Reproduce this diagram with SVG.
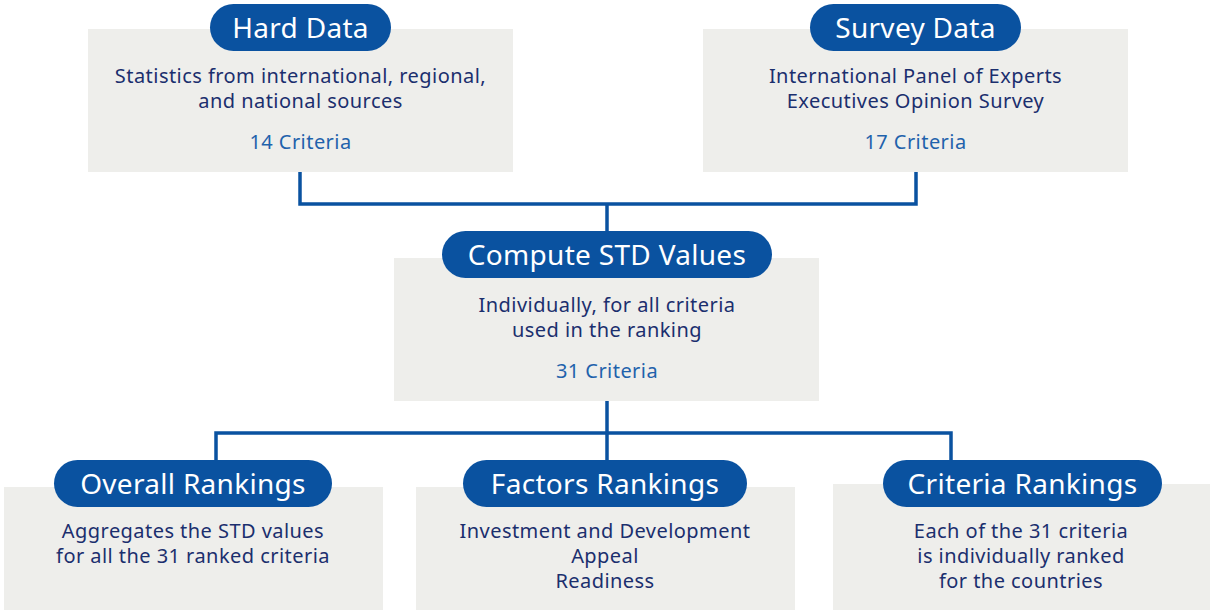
<svg xmlns="http://www.w3.org/2000/svg" width="1210" height="610" viewBox="0 0 1210 610">
<style>
.box{fill:#eeeeeb}
.pill{fill:#0a52a0}
.title{font-family:"Noto Sans","Liberation Sans",sans-serif;font-size:28px;letter-spacing:0.3px;fill:#ffffff;text-anchor:middle}
.body{font-family:"Noto Sans","Liberation Sans",sans-serif;font-size:20px;letter-spacing:0.45px;fill:#1b2f6e;text-anchor:middle}
.crit{font-family:"Noto Sans","Liberation Sans",sans-serif;font-size:20px;letter-spacing:0.45px;fill:#1f62ac;text-anchor:middle}
.conn{fill:none;stroke:#0a52a0;stroke-width:3.5}
</style>
<rect width="1210" height="610" fill="#ffffff"/>
<g id="connectors">
<path class="conn" d="M300,172 V204 H916 V172"/>
<path class="conn" d="M607,204 V232"/>
<path class="conn" d="M607,401 V433"/>
<path class="conn" d="M216,461 V433 H951 V461"/>
<path class="conn" d="M607,433 V461"/>
</g>
<g id="hard-data">
<rect class="box" x="88" y="29" width="425" height="143"/>
<rect class="pill" x="210" y="4" width="181" height="47" rx="23.5"/>
<text class="title" x="300.5" y="38">Hard Data</text>
<text class="body" x="300.5" y="83">Statistics from international, regional,</text>
<text class="body" x="300.5" y="108">and national sources</text>
<text class="crit" x="300.5" y="149">14 Criteria</text>
</g>
<g id="survey-data">
<rect class="box" x="703" y="29" width="425" height="143"/>
<rect class="pill" x="810" y="4" width="211" height="47" rx="23.5"/>
<text class="title" x="915.5" y="38">Survey Data</text>
<text class="body" x="915.5" y="83">International Panel of Experts</text>
<text class="body" x="915.5" y="108">Executives Opinion Survey</text>
<text class="crit" x="915.5" y="149">17 Criteria</text>
</g>
<g id="compute-std">
<rect class="box" x="394" y="258" width="425" height="143"/>
<rect class="pill" x="442" y="231" width="330" height="47" rx="23.5"/>
<text class="title" x="607" y="265">Compute STD Values</text>
<text class="body" x="607" y="312">Individually, for all criteria</text>
<text class="body" x="607" y="337">used in the ranking</text>
<text class="crit" x="607" y="378">31 Criteria</text>
</g>
<g id="overall-rankings">
<rect class="box" x="4" y="487" width="379" height="123"/>
<rect class="pill" x="54" y="460" width="278" height="47" rx="23.5"/>
<text class="title" x="193" y="494">Overall Rankings</text>
<text class="body" x="193" y="538">Aggregates the STD values</text>
<text class="body" x="193" y="563">for all the 31 ranked criteria</text>
</g>
<g id="factors-rankings">
<rect class="box" x="416" y="487" width="379" height="123"/>
<rect class="pill" x="463" y="460" width="284" height="47" rx="23.5"/>
<text class="title" x="605" y="494">Factors Rankings</text>
<text class="body" x="605" y="538">Investment and Development</text>
<text class="body" x="605" y="563">Appeal</text>
<text class="body" x="605" y="588">Readiness</text>
</g>
<g id="criteria-rankings">
<rect class="box" x="833" y="484" width="377" height="126"/>
<rect class="pill" x="883" y="460" width="279" height="47" rx="23.5"/>
<text class="title" x="1022.5" y="494">Criteria Rankings</text>
<text class="body" x="1021" y="538">Each of the 31 criteria</text>
<text class="body" x="1021" y="563">is individually ranked</text>
<text class="body" x="1021" y="588">for the countries</text>
</g>
</svg>
